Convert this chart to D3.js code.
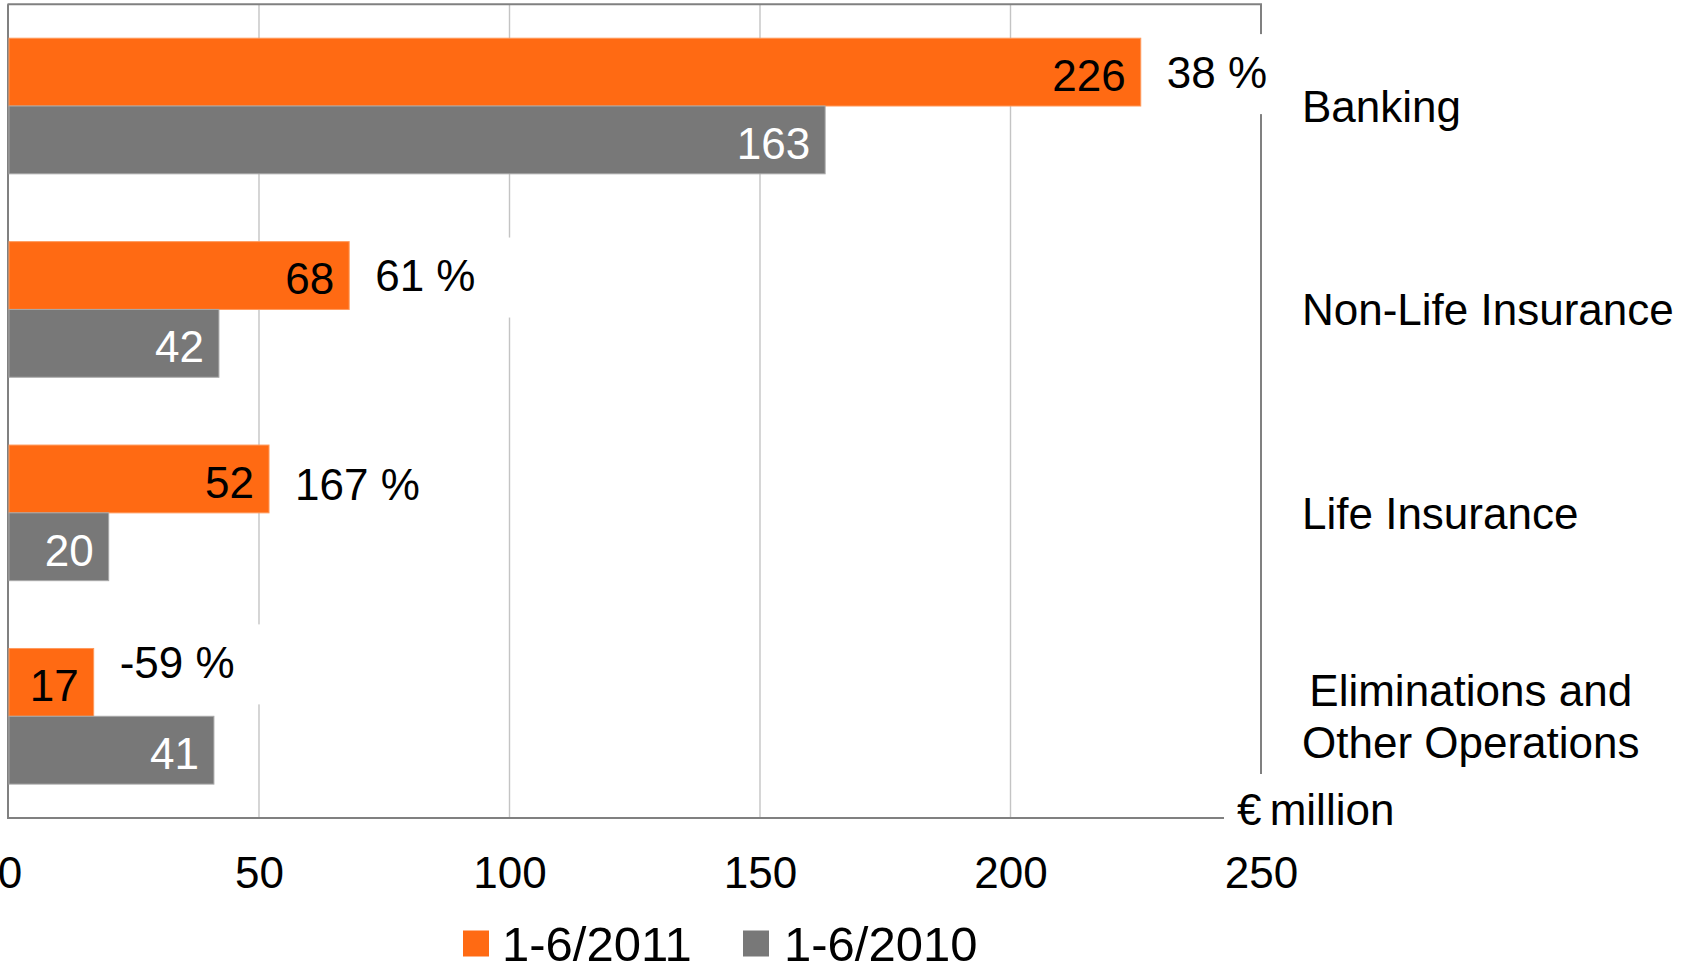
<!DOCTYPE html>
<html>
<head>
<meta charset="utf-8">
<script src="https://cdn.jsdelivr.net/npm/d3@7/dist/d3.min.js"></script>
<style>
  html, body { margin: 0; padding: 0; background: #ffffff; }
  svg { display: block; font-family: "Liberation Sans", Arial, Helvetica, sans-serif; }
</style>
</head>
<body>
<svg id="chart" width="1681" height="966"></svg>
<script>
// Operating profit by segment, € million
const categories = ["Banking", "Non-Life Insurance", "Life Insurance", "Eliminations and\nOther Operations"];
const seriesNames = ["1-6/2011", "1-6/2010"];
const values2011 = [226, 68, 52, 17];
const values2010 = [163, 42, 20, 41];
const changeLabels = ["38 %", "61 %", "167 %", "-59 %"];
const tickValues = [0, 50, 100, 150, 200, 250];
const unitLabel = "€ million";

// small per-label vertical adjustments for the change labels (px)
const changeNudge = [0, 0, 5, -20];

const colors = { "1-6/2011": "#ff6a13", "1-6/2010": "#787878" };
const strokes = { "1-6/2011": "#ff9a5c", "1-6/2010": "#a8a8a8" };
const labelColors = { "1-6/2011": "#000000", "1-6/2010": "#ffffff" };

const svg = d3.select("#chart");
const plot = { left: 8.5, right: 1261, top: 4.3, bottom: 818 };
const FS = 44;

const x = d3.scaleLinear().domain([0, 250]).range([plot.left, plot.right]);
const y = d3.scaleBand().domain(categories).range([plot.top, plot.bottom])
  .paddingInner(1 / 3).paddingOuter(1 / 6);
const ySub = d3.scaleBand().domain(seriesNames).range([0, y.bandwidth()]);

const rows = categories.map((c, i) => ({
  category: c,
  bars: [
    { series: seriesNames[0], value: values2011[i] },
    { series: seriesNames[1], value: values2010[i] }
  ],
  change: changeLabels[i],
  nudge: changeNudge[i],
  v2011: values2011[i]
}));

// vertical gridlines
svg.append("g").selectAll("line").data(tickValues.slice(1, -1)).join("line")
  .attr("x1", d => x(d)).attr("x2", d => x(d))
  .attr("y1", plot.top).attr("y2", plot.bottom)
  .attr("stroke", "#c4c4c4").attr("stroke-width", 1.4);

// frame
const frame = svg.append("g").attr("stroke", "#808080").attr("stroke-width", 2).attr("fill", "none");
frame.append("line").attr("x1", x(0) - 0.5).attr("x2", x(0) - 0.5).attr("y1", plot.top).attr("y2", plot.bottom + 1);
frame.append("line").attr("x1", x(0) - 1).attr("x2", x(250) + 1).attr("y1", plot.top).attr("y2", plot.top);
frame.append("line").attr("x1", x(250)).attr("x2", x(250)).attr("y1", plot.top).attr("y2", plot.bottom);
frame.append("line").attr("x1", x(0) - 1).attr("x2", x(250)).attr("y1", plot.bottom).attr("y2", plot.bottom);

// bars
const groups = svg.append("g").selectAll("g").data(rows).join("g")
  .attr("transform", d => `translate(0,${y(d.category)})`);

groups.selectAll("rect").data(d => d.bars).join("rect")
  .attr("x", x(0) + 0.5)
  .attr("y", d => ySub(d.series))
  .attr("width", d => x(d.value) - x(0) - 0.5)
  .attr("height", ySub.bandwidth())
  .attr("fill", d => colors[d.series])
  .attr("stroke", d => strokes[d.series])
  .attr("stroke-width", 1);

// value labels inside bar ends
groups.selectAll("text.val").data(d => d.bars).join("text")
  .attr("class", "val")
  .attr("x", d => x(d.value) - 15)
  .attr("y", d => ySub(d.series) + ySub.bandwidth() / 2 + 3 + FS * 0.358)
  .attr("text-anchor", "end")
  .attr("font-size", FS)
  .attr("fill", d => labelColors[d.series])
  .text(d => d.value);

// change labels on white boxes
const chg = svg.append("g").selectAll("g").data(rows).join("g");
chg.each(function (d) {
  const g = d3.select(this);
  const cy = y(d.category) + ySub(seriesNames[0]) + ySub.bandwidth() / 2 + d.nudge;
  const tx = x(d.v2011) + 26;
  const box = g.append("rect").attr("fill", "#ffffff");
  const t = g.append("text")
    .attr("x", tx).attr("y", cy + FS * 0.358)
    .attr("font-size", FS).attr("fill", "#000")
    .text(d.change);
  const w = t.node().getComputedTextLength();
  box.attr("x", tx - 12).attr("y", cy - 38).attr("width", w + 48).attr("height", 80);
});

// unit label
const unitG = svg.append("g");
unitG.append("rect").attr("x", x(250) - 37).attr("y", 774).attr("width", 200).attr("height", 40).attr("fill", "#fff");
unitG.append("rect").attr("x", x(250) - 37).attr("y", 774).attr("width", 40).attr("height", 50).attr("fill", "#fff");
unitG.append("text").attr("x", x(250) - 24).attr("y", 809 + FS * 0.358)
  .attr("font-size", FS).attr("fill", "#000")
  .attr("word-spacing", -4)
  .text(unitLabel);

// category labels at right
const catG = svg.append("g");
categories.forEach(c => {
  const lines = c.split("\n");
  const cy = y(c) + y.bandwidth() / 2;
  const lh = 51.5;
  const t = catG.append("text").attr("font-size", FS).attr("fill", "#000");
  const spans = lines.map((ln, i) => t.append("tspan")
    .attr("y", cy + (i - (lines.length - 1) / 2) * lh + FS * 0.358)
    .text(ln));
  const widths = spans.map(s => s.node().getComputedTextLength());
  const maxW = d3.max(widths);
  spans.forEach((s, i) => s.attr("x", 1302 + (maxW - widths[i]) / 2));
});

// x axis tick labels
const axis = d3.axisBottom(x).tickValues(tickValues).tickSize(0).tickPadding(0).tickFormat(d3.format("d"));
const axG = svg.append("g").attr("transform", `translate(0,${888})`).call(axis);
axG.select(".domain").remove();
axG.selectAll("text")
  .attr("font-size", FS)
  .attr("font-family", "\"Liberation Sans\", Arial, sans-serif")
  .attr("fill", "#000")
  .attr("dy", 0)
  .attr("dx", (d, i) => i === 0 ? 1 : 0);

// legend
const LFS = 49;
const legend = svg.append("g");
const legendItems = [
  { name: seriesNames[0], sx: 463, tx: 502 },
  { name: seriesNames[1], sx: 743, tx: 784 }
];
legendItems.forEach(it => {
  legend.append("rect").attr("x", it.sx).attr("y", 930.5).attr("width", 26).attr("height", 26)
    .attr("fill", colors[it.name]);
  legend.append("text").attr("x", it.tx).attr("y", 943 + LFS * 0.358)
    .attr("font-size", LFS).attr("fill", "#000").text(it.name);
});
</script>
</body>
</html>
